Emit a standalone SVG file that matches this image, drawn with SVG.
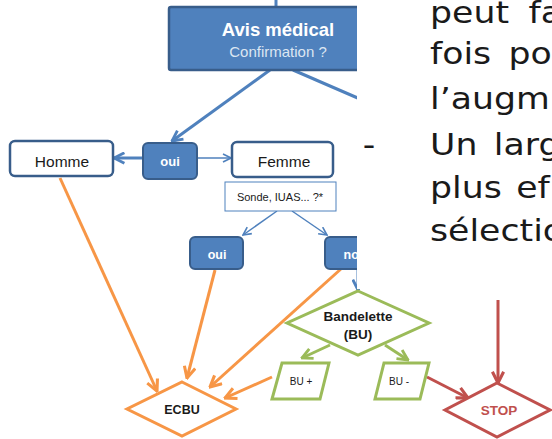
<svg xmlns="http://www.w3.org/2000/svg" width="552" height="439" viewBox="0 0 552 439">
<style>
.lbl{font-family:"Liberation Sans",Arial,sans-serif;text-anchor:middle}
.b{font-weight:bold}
.w{fill:#ffffff}
.dk{fill:#1a1a1a}
.box{fill:#ffffff;stroke:#385D8A;stroke-width:2.5}
.bbox{fill:#4F81BD;stroke:#385D8A;stroke-width:2}
.c{fill:none;stroke-width:3}
.cb{stroke:#4F81BD}.co{stroke:#F79646}.cg{stroke:#9BBB59}.cr{stroke:#C0504D}
.panel{font-family:"DejaVu Sans",Verdana,sans-serif;font-size:31px;fill:#1a1a1a}
</style>
<defs>
<marker id="ab" viewBox="0 0 10 10" refX="9" refY="5" markerUnits="userSpaceOnUse" markerWidth="13" markerHeight="13" orient="auto"><path d="M1,1 L9,5 L1,9" fill="none" stroke="#4F81BD" stroke-width="2.2"/></marker>
<marker id="abt" viewBox="0 0 10 10" refX="9" refY="5" markerUnits="userSpaceOnUse" markerWidth="10" markerHeight="10" orient="auto"><path d="M1,1 L9,5 L1,9" fill="none" stroke="#4F81BD" stroke-width="1.6"/></marker>
<marker id="ao" viewBox="0 0 10 10" refX="9" refY="5" markerUnits="userSpaceOnUse" markerWidth="14" markerHeight="14" orient="auto"><path d="M1,1 L9,5 L1,9" fill="none" stroke="#F79646" stroke-width="2.2"/></marker>
<marker id="ag" viewBox="0 0 10 10" refX="9" refY="5" markerUnits="userSpaceOnUse" markerWidth="13" markerHeight="13" orient="auto"><path d="M1,1 L9,5 L1,9" fill="none" stroke="#9BBB59" stroke-width="2.2"/></marker>
<marker id="ar" viewBox="0 0 10 10" refX="9" refY="5" markerUnits="userSpaceOnUse" markerWidth="14" markerHeight="14" orient="auto"><path d="M1,1 L9,5 L1,9" fill="none" stroke="#C0504D" stroke-width="2.2"/></marker>
</defs>
<rect width="552" height="439" fill="#ffffff"/>

<g id="connectors">
<line class="c cb" stroke-width="2" x1="276" y1="0" x2="276" y2="7"/>
<line class="c cb" x1="270" y1="70" x2="172" y2="141" marker-end="url(#ab)"/>
<line class="c cb" x1="293" y1="70" x2="390" y2="112"/>
<line class="c cb" x1="143" y1="158" x2="114" y2="158" marker-end="url(#ab)"/>
<line class="c cb" style="stroke-width:1.5" x1="197" y1="158" x2="231" y2="158" marker-end="url(#abt)"/>
<line class="c cb" style="stroke-width:1.5" x1="277" y1="211" x2="243" y2="235" marker-end="url(#abt)"/>
<line class="c cb" style="stroke-width:1.5" x1="292" y1="211" x2="327" y2="235" marker-end="url(#abt)"/>
<line class="c cb" x1="358" y1="269" x2="358" y2="290" marker-end="url(#ab)"/>
<line class="c co" x1="60" y1="178" x2="157" y2="391" marker-end="url(#ao)"/>
<line class="c co" x1="215" y1="270" x2="187" y2="378" marker-end="url(#ao)"/>
<line class="c co" x1="342" y1="268" x2="210" y2="387" marker-end="url(#ao)"/>
<line class="c co" x1="272" y1="377" x2="225" y2="398" marker-end="url(#ao)"/>
<line class="c cg" x1="330" y1="345" x2="302" y2="358" marker-end="url(#ag)"/>
<line class="c cg" x1="385" y1="345" x2="408" y2="360" marker-end="url(#ag)"/>
<line class="c cr" x1="427" y1="377" x2="468" y2="398" marker-end="url(#ar)"/>
<line class="c cr" x1="498" y1="300" x2="498" y2="383" marker-end="url(#ar)"/>
</g>

<g id="avis">
<rect x="169" y="7" width="220" height="63" rx="2" fill="#4F81BD" stroke="#385D8A" stroke-width="2.5"/>
<text class="lbl b w" x="278" y="36" font-size="18.5">Avis médical</text>
<text class="lbl" x="278" y="57" font-size="15" fill="#dce6f2">Confirmation ?</text>
</g>

<g id="oui1">
<rect class="bbox" x="143" y="143" width="54" height="36" rx="5"/>
<text class="lbl b w" x="170" y="166" font-size="13">oui</text>
</g>

<g id="homme">
<rect class="box" x="10" y="141" width="103" height="35" rx="5"/>
<text class="lbl dk" x="62" y="167" font-size="15.5">Homme</text>
</g>

<g id="femme">
<rect class="box" x="232" y="142" width="101" height="35" rx="5"/>
<text class="lbl dk" x="284" y="167" font-size="15.5">Femme</text>
</g>

<g id="sonde">
<rect x="225" y="182" width="111" height="29" fill="#ffffff" stroke="#4F81BD" stroke-width="1"/>
<text class="lbl dk" x="280" y="201" font-size="11">Sonde, IUAS... ?*</text>
</g>

<g id="oui2">
<rect class="bbox" x="190" y="237" width="53" height="32" rx="5"/>
<text class="lbl b w" x="217" y="259" font-size="12.5">oui</text>
</g>

<g id="non">
<rect class="bbox" x="325" y="237" width="58" height="32" rx="5"/>
<text class="lbl b w" x="355" y="259" font-size="12.5">non</text>
</g>

<g id="bandelette">
<polygon points="358,291 429,323 358,355 287,323" fill="#ffffff" stroke="#9BBB59" stroke-width="3"/>
<text class="lbl b dk" x="358" y="321" font-size="13.5">Bandelette</text>
<text class="lbl b dk" x="358" y="339" font-size="13.5">(BU)</text>
</g>

<g id="buplus">
<polygon points="282,363 329,363 320,399 272,399" fill="#ffffff" stroke="#9BBB59" stroke-width="3"/>
<text class="lbl dk" x="301" y="385" font-size="10">BU +</text>
</g>

<g id="bumoins">
<polygon points="384,363 429,363 420,399 375,399" fill="#ffffff" stroke="#9BBB59" stroke-width="3"/>
<text class="lbl dk" x="399" y="385" font-size="10">BU -</text>
</g>

<g id="ecbu">
<polygon points="182,382 236,409 182,436 127,409" fill="#ffffff" stroke="#F79646" stroke-width="3"/>
<text class="lbl b dk" x="182" y="414" font-size="12.5">ECBU</text>
</g>

<g id="stop">
<polygon points="497,383 550,410 497,437 445,410" fill="#ffffff" stroke="#C0504D" stroke-width="3"/>
<text class="lbl b" x="499" y="415" font-size="13.5" fill="#C0504D">STOP</text>
</g>

<g id="panel">
<rect x="357" y="0" width="195" height="289" fill="#ffffff"/>
<g transform="translate(430,0) scale(1.12,1)">
<text class="panel" x="0" y="23">peut</text>
<text class="panel" x="88" y="23">fa</text>
<text class="panel" x="0" y="64">fois</text>
<text class="panel" x="70" y="64">po</text>
<text class="panel" x="0" y="109">l’augm</text>
<text class="panel" x="-60" y="155">-</text>
<text class="panel" x="0" y="155">Un</text>
<text class="panel" x="57" y="155">larg</text>
<text class="panel" x="0" y="198">plus</text>
<text class="panel" x="77" y="198">ef</text>
<text class="panel" x="0" y="241">sélectio</text>
</g>
</g>
</svg>
